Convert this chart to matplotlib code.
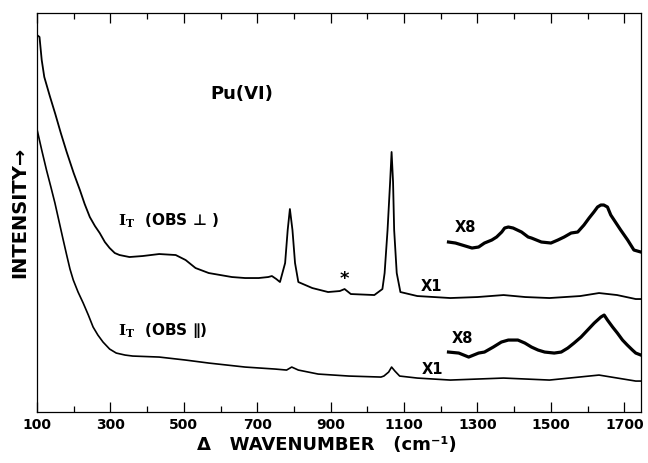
import matplotlib
matplotlib.use("Agg")
import matplotlib.pyplot as plt
from matplotlib.ticker import MultipleLocator, FixedLocator

# Raman spectra of Pu(VI) (arbitrary intensity units)
perp_wn = [100, 107, 113, 120, 135, 150, 165, 181, 200, 217, 230, 244, 258, 271,
           285, 298, 312, 325, 352, 388, 433, 478,
           505, 532, 568, 631, 667, 704, 730, 740, 752, 762, 776, 783, 789, 796,
           803, 812, 850, 893, 925, 938, 955, 1019, 1041, 1047, 1055, 1062, 1066,
           1070, 1073, 1080, 1090, 1136, 1226, 1300, 1371, 1430, 1496, 1580, 1631,
           1680, 1731, 1745]
perp_i = [377, 375, 352, 335, 316, 298, 279, 260, 239, 222, 208, 195, 186, 179,
          170, 164, 159, 157, 155, 156, 158, 157,
          152, 144, 139, 135, 134, 134, 135, 136, 133, 130, 149, 182, 203, 182,
          149, 130, 124, 120, 121, 123, 118, 117, 123, 139, 182, 230, 260,
          230, 182, 139, 120, 116, 114, 115, 117, 115, 114, 116, 119,
          117, 113, 113]

perp_x8_wn = [1221, 1240, 1258, 1285, 1303, 1319, 1339, 1352, 1366, 1374, 1384,
              1397, 1420, 1438, 1447, 1474, 1500, 1519, 1536, 1555, 1573, 1590,
              1604, 1617, 1627, 1636, 1644, 1654, 1663, 1672, 1690, 1709, 1726,
              1745]
perp_x8_i = [170, 169, 167, 164, 165, 169, 172, 175, 180, 184, 185,
             184, 180, 175, 174, 170, 169, 172, 175, 179, 180, 187,
             194, 200, 205, 207, 207, 205, 197, 192, 182, 172, 162,
             160]

par_wn = [100, 113, 126, 138, 149, 160, 171, 181, 190, 199, 212, 226, 240, 253,
          266, 280, 298, 316, 340, 361, 433, 505, 568,
          667, 749, 780, 794, 812, 866, 950, 1037, 1045, 1058, 1066, 1075, 1088,
          1136, 1226, 1371, 1496, 1631, 1731, 1745]
par_i = [283, 262, 242, 225, 209, 191, 173, 157, 143, 132, 120, 109, 97, 85,
         77, 70, 63, 59, 57, 56, 55, 52, 49,
         45, 43, 42, 45, 42, 38, 36, 35, 36, 40, 45, 41, 36,
         34, 32, 34, 32, 37, 31, 31]

par_x8_wn = [1221, 1249, 1276, 1303, 1319, 1343, 1365, 1384, 1410, 1429, 1447,
             1465, 1483, 1509, 1528, 1546, 1563, 1582, 1600, 1618, 1636, 1645,
             1654, 1668, 1681, 1695, 1708, 1722, 1731, 1745]
par_x8_i = [60, 59, 55, 59, 60, 65, 70, 72, 72, 69, 65,
            62, 60, 59, 60, 64, 69, 75, 82, 89, 95, 97,
            92, 85, 79, 72, 67, 62, 59, 57]

plt.rcParams['font.family'] = ['DejaVu Sans']
plt.rcParams['mathtext.fontset'] = 'dejavuserif'

fig = plt.figure(figsize=(6.48, 4.63), dpi=100)
ax = fig.add_axes([0.057, 0.110, 0.932, 0.862])

ax.plot(perp_wn, perp_i, color='black', lw=1.3)
ax.plot(perp_x8_wn, perp_x8_i, color='black', lw=2.3)
ax.plot(par_wn, par_i, color='black', lw=1.2)
ax.plot(par_x8_wn, par_x8_i, color='black', lw=2.3)

ax.set_xlim(100, 1745)
ax.set_ylim(0, 399)

ax.xaxis.set_major_locator(FixedLocator(list(range(100, 1701, 200))))
ax.xaxis.set_minor_locator(MultipleLocator(100))
ax.tick_params(axis='x', which='both', direction='in', top=True, bottom=True)
ax.tick_params(axis='x', which='major', length=7, width=0.9, pad=4,
               labelsize=10)
ax.tick_params(axis='x', which='minor', length=4, width=0.9)
for lab in ax.get_xticklabels():
    lab.set_fontweight('bold')
ax.set_yticks([])
for sp in ax.spines.values():
    sp.set_linewidth(0.9)

txt = dict(fontweight='bold', color='black')
ax.text(658, 318, "Pu(VI)", ha='center', va='center', fontsize=13, **txt)
ax.text(320, 191, r"$\mathbf{I}_{\mathbf{T}}$  (OBS ⊥ )", ha='left', va='center',
        fontsize=11, **txt)
ax.text(320, 82, r"$\mathbf{I}_{\mathbf{T}}$  (OBS ∥)", ha='left', va='center',
        fontsize=11, **txt)
ax.text(1268, 185, "X8", ha='center', va='center', fontsize=10.5, **txt)
ax.text(1260, 74, "X8", ha='center', va='center', fontsize=10.5, **txt)
ax.text(1174, 126, "X1", ha='center', va='center', fontsize=10.5, **txt)
ax.text(1177, 43, "X1", ha='center', va='center', fontsize=10.5, **txt)
ax.text(937, 133, "*", ha='center', va='center', fontsize=13, **txt)

fig.text(0.031, 0.542, "INTENSITY→", rotation=90, ha='center', va='center',
         fontsize=14, **txt)
fig.text(0.505, 0.039, "Δ   WAVENUMBER   (cm⁻¹)", ha='center', va='center',
         fontsize=13, **txt)

fig.savefig("out.png", dpi=100)
